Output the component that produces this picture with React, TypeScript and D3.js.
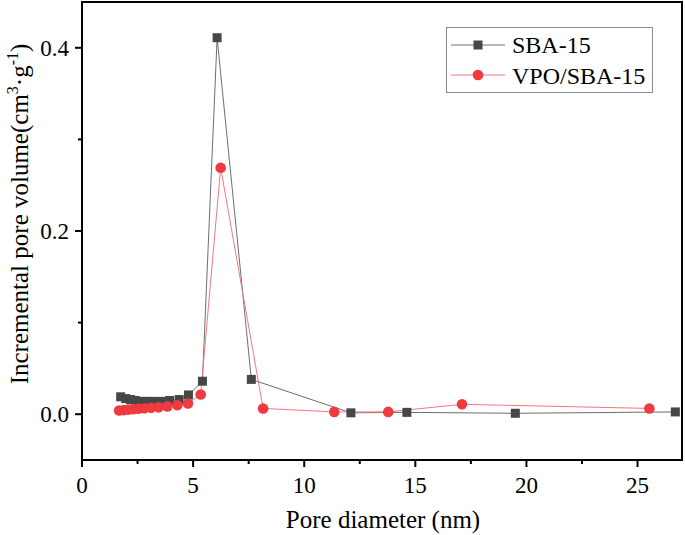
import React from "react";
import * as d3 from "d3";

const sbaX = [1.74, 1.97, 2.18, 2.4, 2.64, 2.91, 3.21, 3.55, 3.94, 4.37, 4.79, 5.42, 6.08, 7.62, 12.1, 14.62, 19.5, 26.7];
const sbaY = [0.019, 0.017, 0.016, 0.015, 0.014, 0.014, 0.014, 0.014, 0.015, 0.016, 0.021, 0.036, 0.411, 0.038, 0.0015, 0.002, 0.001, 0.0025];

const vpoX = [1.67, 1.88, 2.08, 2.3, 2.54, 2.81, 3.11, 3.45, 3.84, 4.29, 4.77, 5.34, 6.24, 8.15, 11.35, 13.78, 17.1, 25.53];
const vpoY = [0.004, 0.0045, 0.005, 0.0055, 0.006, 0.0065, 0.007, 0.0075, 0.0085, 0.0098, 0.0117, 0.0215, 0.269, 0.0063, 0.0025, 0.0025, 0.0108, 0.0063];

const xTicks = [0, 5, 10, 15, 20, 25];
const xMinor = [2.5, 7.5, 12.5, 17.5, 22.5];
const yTicks = [0.0, 0.2, 0.4];
const yMinor = [0.1, 0.3];

const seriesNames = ["SBA-15", "VPO/SBA-15"];

const FONT = "'Liberation Serif', 'Times New Roman', serif";
const W = 685;
const H = 535;
const L = 82, R = 682, T = 2, B = 460;

export default function App() {
  const x = d3.scaleLinear().domain([0, 27]).range([L, R]);
  const y = d3.scaleLinear().domain([-0.05, 0.45]).range([B, T]);
  const line = d3
    .line<[number, number]>()
    .x((d) => x(d[0]))
    .y((d) => y(d[1]));
  const sba: [number, number][] = sbaX.map((v, i) => [v, sbaY[i]]);
  const vpo: [number, number][] = vpoX.map((v, i) => [v, vpoY[i]]);
  const sq = 9;
  const gray = "#474747";
  const red = "#ef3a3f";

  return (
    <svg width={W} height={H} style={{ position: "absolute", left: 0, top: 0, background: "#fff" }} fontFamily={FONT}>
      <rect x={0} y={0} width={W} height={H} fill="#fff" />
      {/* lines */}
      <path d={line(sba) || ""} fill="none" stroke="#6e6e6e" strokeWidth={1} />
      <path d={line(vpo) || ""} fill="none" stroke="#f07a7c" strokeWidth={1} />
      {sba.map((d, i) => (
        <rect key={"s" + i} x={x(d[0]) - sq / 2} y={y(d[1]) - sq / 2} width={sq} height={sq} fill={gray} />
      ))}
      {vpo.map((d, i) => (
        <circle key={"v" + i} cx={x(d[0])} cy={y(d[1])} r={5.3} fill={red} />
      ))}
      {/* frame */}
      <rect x={L} y={T} width={R - L} height={B - T} fill="none" stroke="#000" strokeWidth={2} />
      {/* x ticks */}
      {xTicks.map((t) => (
        <g key={"xt" + t}>
          <line x1={x(t)} x2={x(t)} y1={B} y2={B + 7} stroke="#000" strokeWidth={2} />
          <text x={x(t)} y={493} textAnchor="middle" fontSize={23}>
            {t}
          </text>
        </g>
      ))}
      {xMinor.map((t) => (
        <line key={"xm" + t} x1={x(t)} x2={x(t)} y1={B} y2={B + 4} stroke="#000" strokeWidth={2} />
      ))}
      {/* y ticks */}
      {yTicks.map((t) => (
        <g key={"yt" + t}>
          <line x1={L - 7} x2={L} y1={y(t)} y2={y(t)} stroke="#000" strokeWidth={2} />
          <text x={L - 13} y={y(t)} dy="0.35em" textAnchor="end" fontSize={23}>
            {t.toFixed(1)}
          </text>
        </g>
      ))}
      {yMinor.map((t) => (
        <line key={"ym" + t} x1={L - 4} x2={L} y1={y(t)} y2={y(t)} stroke="#000" strokeWidth={2} />
      ))}
      {/* axis titles */}
      <text x={383} y={528} textAnchor="middle" fontSize={25}>
        Pore diameter (nm)
      </text>
      <text transform="translate(28,214) rotate(-90)" textAnchor="middle" fontSize={25}>
        Incremental pore volume(cm
        <tspan fontSize={16} dy={-10}>3</tspan>
        <tspan dy={10}>·g</tspan>
        <tspan fontSize={16} dy={-10}>-1</tspan>
        <tspan dy={10}>)</tspan>
      </text>
      {/* legend */}
      <rect x={446.5} y={27.5} width={206} height={65} fill="#fff" stroke="#8a8a8a" strokeWidth={1} />
      <line x1={451} x2={505} y1={45} y2={45} stroke="#6e6e6e" strokeWidth={1} />
      <rect x={478 - sq / 2} y={45 - sq / 2} width={sq} height={sq} fill={gray} />
      <text x={512} y={53} fontSize={24}>
        {seriesNames[0]}
      </text>
      <line x1={451} x2={505} y1={75} y2={75} stroke="#f07a7c" strokeWidth={1} />
      <circle cx={478} cy={75} r={5.3} fill={red} />
      <text x={512} y={84} fontSize={24}>
        {seriesNames[1]}
      </text>
    </svg>
  );
}
